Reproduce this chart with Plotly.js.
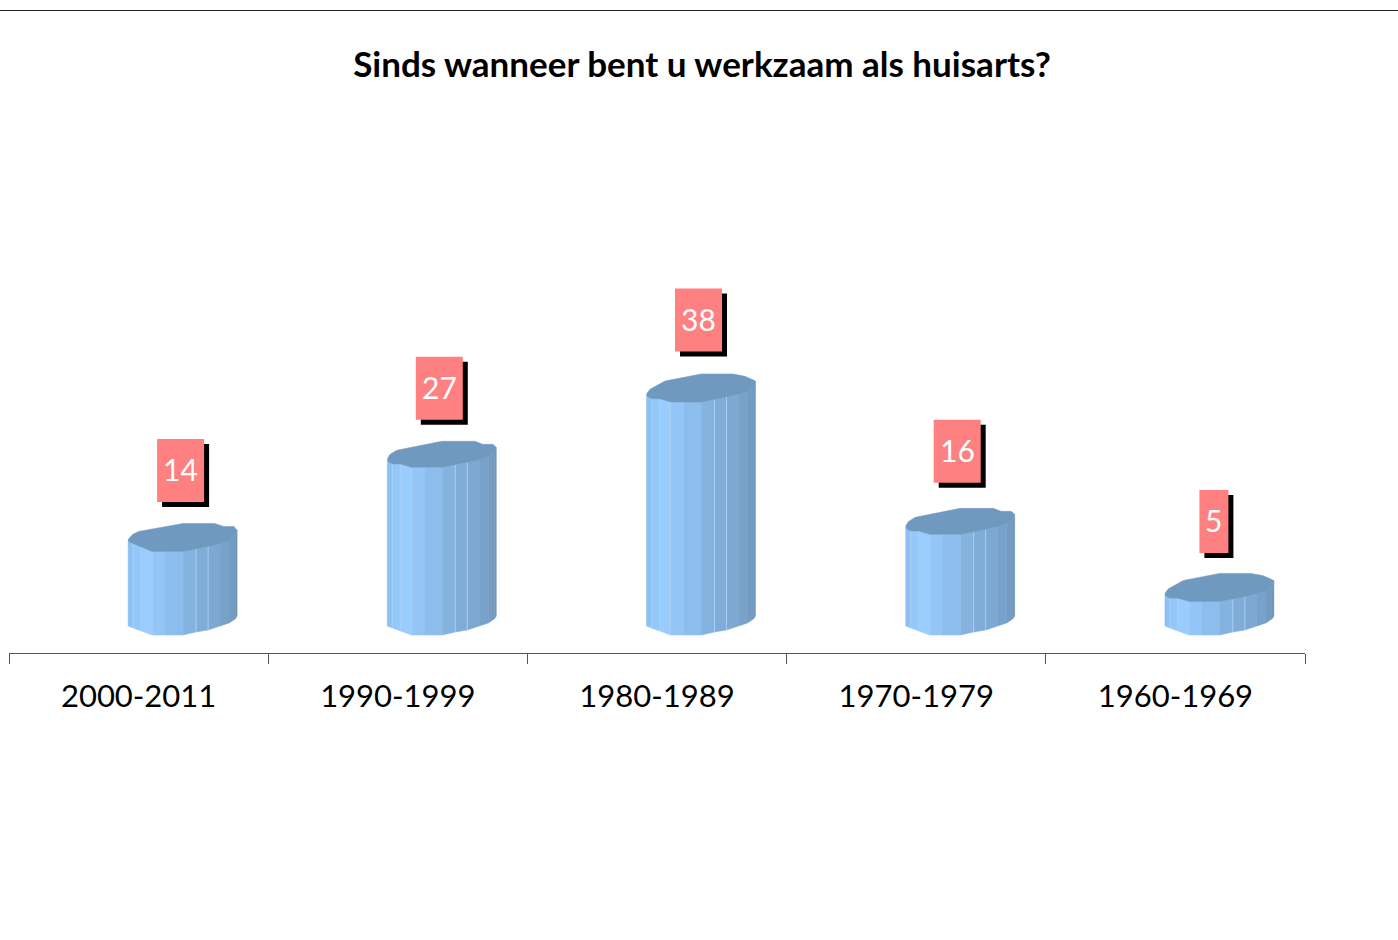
<!DOCTYPE html>
<html>
<head>
<meta charset="utf-8">
<script src="https://cdn.plot.ly/plotly-3.0.1.min.js"></script>
<style>html,body{margin:0;padding:0;background:#fff}#chart{width:1398px;height:940px}</style>
</head>
<body>
<div id="chart"></div>
<script>
const chartTitle = "Sinds wanneer bent u werkzaam als huisarts?";
const categories = ["2000-2011", "1990-1999", "1980-1989", "1970-1979", "1960-1969"];
const valueLabels = ["14", "27", "38", "16", "5"];
// Heights (the labels show whole numbers)
const values = [13.7, 27.5, 38.2, 16.5, 5.5];

// Drawing style: cylinder outlines, in pixels around each cylinder's centre
const pxPerCategory = 259.2, pxPerUnit = 6.1;
const cylinderShift = 44;
const edgeDx = [-54.5,-49.5,-41.5,-30.5,-17.5,0.5,13.5,25.5,37.5,46.5,52.5,54.5];
const bottomDy = [-9,-7,-4,0,0,0,-3,-5,-9,-12,-16,-19];
const frontA = [-10,-8,-5,0,0,0,-2.5,-5,-7.5,-10.5,-15,-21];
const frontB = [-6,-3.3,-3.3,0,0,0,-2.5,-5,-7.5,-10.5,-15,-18];
const backA = [[-54.5,-12],[-50,-17],[-44,-20],[0.5,-28],[32,-28],[41,-25],[51.5,-25],[54.5,-21]];
const backB = [[-54.5,-8],[-52,-12.7],[-45,-17],[0,-26],[33,-26],[41,-23],[51,-23],[54.5,-20]];
const backC = [[-54.5,-8],[-51,-12.7],[-36,-21],[0,-28],[32,-28],[44,-25.7],[54.5,-21]];
const frontByBar = [frontA, frontB, frontB, frontB, frontB];
const backByBar = [backA, backB, backC, backB, backC];
const facetColors = ["#8EC1F3","#94C8FB","#99CCFF","#93C6F7","#8DBDEC","#85B3E0","#80ACD8","#7DA8D2","#79A2CA","#749CC3","#6F96BB"];
const separators = [1,2,3,6,7];
const topColor = "#7099C0";

const X = (i, dx) => i + (cylinderShift + dx) / pxPerCategory;
const Y = (v, dy) => v - dy / pxPerUnit;   // dy in px, upward negative

const traces = [];
facetColors.forEach((color, f) => {
  const xs = [], ys = [];
  values.forEach((v, i) => {
    const top = frontByBar[i];
    xs.push(X(i, edgeDx[f]), X(i, edgeDx[f+1]), X(i, edgeDx[f+1]), X(i, edgeDx[f]), X(i, edgeDx[f]), null);
    ys.push(Y(0, bottomDy[f]), Y(0, bottomDy[f+1]), Y(v, top[f+1]), Y(v, top[f]), Y(0, bottomDy[f]), null);
  });
  traces.push({type:"scatter", mode:"lines", x:xs, y:ys, fill:"toself", fillcolor:color,
    line:{color:color, width:0.5}, hoverinfo:"skip", showlegend:false});
});
separators.forEach(s => {
  const xs = [], ys = [];
  values.forEach((v, i) => {
    xs.push(X(i, edgeDx[s]), X(i, edgeDx[s]), null);
    ys.push(Y(0, bottomDy[s]), Y(v, frontByBar[i][s]), null);
  });
  traces.push({type:"scatter", mode:"lines", x:xs, y:ys, line:{color:"#A8CFF5", width:1},
    hoverinfo:"skip", showlegend:false});
});
{
  const xs = [], ys = [];
  values.forEach((v, i) => {
    const top = frontByBar[i], back = backByBar[i];
    edgeDx.forEach((d, k) => { xs.push(X(i, d)); ys.push(Y(v, top[k])); });
    for (let k = back.length - 1; k >= 0; k--) { xs.push(X(i, back[k][0])); ys.push(Y(v, back[k][1])); }
    xs.push(null); ys.push(null);
  });
  traces.push({type:"scatter", mode:"lines", x:xs, y:ys, fill:"toself", fillcolor:topColor,
    line:{color:topColor, width:0.5}, hoverinfo:"skip", showlegend:false});
}

const boxW = t => t.length > 1 ? 47 : 29;
const labelDx = [-2, -2.5, -2.5, -3, -5.5];
const labelLift = [81, 79, 82, 83, 80];
const shapes = [];
const annotations = [];
valueLabels.forEach((t, i) => {
  const w = boxW(t), ax = X(i, labelDx[i]), L = labelLift[i], box = (off, fill) => ({
    type:"rect", xref:"x", yref:"y", xsizemode:"pixel", ysizemode:"pixel",
    xanchor:ax, yanchor:values[i], x0:-w/2+off, x1:w/2+off, y0:L-off-31.5, y1:L-off+31.5,
    fillcolor:fill, line:{width:0}, layer:"above"});
  shapes.push(box(5, "#000"), box(0, "#FF8080"));
  annotations.push({xref:"x", yref:"y", x:ax, y:values[i], yshift:L+1, text:t, showarrow:false,
    font:{family:"Lato, sans-serif", size:30, color:"#fff"}});
});
// Rule across the top of the slide
shapes.push({type:"line", xref:"paper", yref:"paper", x0:-9/1296, x1:1389/1296,
  y0:1+89.5/553, y1:1+89.5/553, line:{color:"#222", width:1}});

const layout = {
  width:1398, height:940, paper_bgcolor:"#fff", plot_bgcolor:"#fff",
  margin:{l:9, r:93, t:100, b:287, pad:0},
  showlegend:false, hovermode:false,
  title:{text:"<b>"+chartTitle+"</b>", x:702/1398, xanchor:"center", y:1-65/940, yanchor:"middle",
    font:{family:"Lato, sans-serif", size:35, color:"#000"}},
  xaxis:{type:"linear", range:[-0.5,4.5], tickmode:"array", tickvals:categories.map((c,i)=>i), ticktext:categories,
    ticks:"outside", ticklen:16, tickcolor:"rgba(0,0,0,0)", showline:true, linecolor:"#555", linewidth:1,
    showgrid:false, zeroline:false, fixedrange:true,
    minor:{tickmode:"array", tickvals:[-0.5,0.5,1.5,2.5,3.5,4.5], ticks:"outside", ticklen:10, tickcolor:"#555", tickwidth:1, showgrid:false},
    tickfont:{family:"Lato, sans-serif", size:31, color:"#000"}},
  yaxis:{range:[-18/pxPerUnit, (553-18)/pxPerUnit], visible:false, showgrid:false, zeroline:false, fixedrange:true},
  shapes, annotations
};
Plotly.newPlot("chart", traces, layout, {displayModeBar:false, responsive:false});
</script>
</body>
</html>
